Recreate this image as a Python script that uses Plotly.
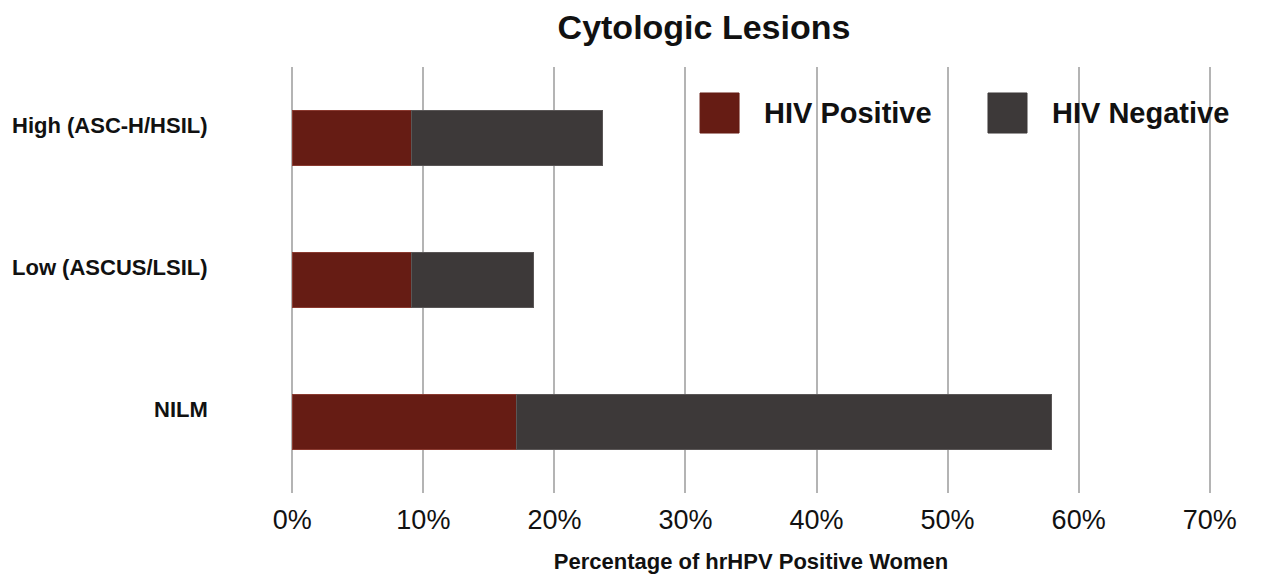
import plotly.graph_objects as go

# ── Data ──────────────────────────────────────────────────────────────────────
categories = ["High (ASC-H/HSIL)", "Low (ASCUS/LSIL)", "NILM"]
hiv_positive = [9.1, 9.1, 17.1]
hiv_negative = [14.6, 9.3, 40.8]
x_ticks = [0, 10, 20, 30, 40, 50, 60, 70]
x_tick_labels = [f"{v}%" for v in x_ticks]

RED = "#661c14"
GREY = "#3d3939"
GRID = "#b4b4b4"
FONT = "Liberation Sans, Arial, sans-serif"

# the page body keeps an 8px browser margin, so the figure is sized to fit
W, H = 1256, 566

fig = go.Figure()
fig.add_trace(go.Bar(
    y=categories, x=hiv_positive, orientation="h", name="HIV Positive",
    marker=dict(color=RED, line=dict(color="#8a3a30", width=1)),
    width=0.39, showlegend=False,
))
fig.add_trace(go.Bar(
    y=categories, x=hiv_negative, orientation="h", name="HIV Negative",
    marker=dict(color=GREY, line=dict(color="#5a5656", width=1)),
    width=0.39, showlegend=False,
))

# category labels, sitting a little above bar centres as in the reference
for cat in categories:
    fig.add_annotation(
        x=-0.088, xref="paper", y=cat, yref="y", yshift=13,
        text=f"<b>{cat}</b>", showarrow=False, xanchor="right", yanchor="middle",
        font=dict(family=FONT, size=22, color="#111111"),
    )

# hand-drawn legend (large swatches)
legend_items = [("HIV Positive", RED, 0.4446, 0.512), ("HIV Negative", GREY, 0.7576, 0.825)]
for label, color, sx, tx in legend_items:
    fig.add_shape(type="rect", xref="paper", yref="paper",
                  x0=sx, x1=sx + 0.0424, y0=0.845, y1=0.939,
                  fillcolor=color, line=dict(color=color, width=1))
    fig.add_annotation(x=tx, y=0.892, xref="paper", yref="paper",
                       text=f"<b>{label}</b>", showarrow=False,
                       xanchor="left", yanchor="middle",
                       font=dict(family=FONT, size=29, color="#111111"))

fig.update_layout(
    barmode="stack",
    width=W, height=H,
    paper_bgcolor="white", plot_bgcolor="white",
    margin=dict(l=283, r=53, t=59, b=81, autoexpand=False),
    font=dict(family=FONT, color="#111111"),
    title=dict(text="<b>Cytologic Lesions</b>", x=696 / W, xanchor="center",
               y=1 - 19 / H, yref="container", yanchor="middle",
               font=dict(family=FONT, size=34, color="#111111")),
    xaxis=dict(range=[-0.1, 70.1], tickvals=x_ticks, ticktext=x_tick_labels,
               showgrid=True, gridcolor=GRID, gridwidth=2, zeroline=False,
               showline=False, ticks="", ticklabelstandoff=8, automargin=False,
               tickfont=dict(family=FONT, size=27, color="#111111"),
               title=dict(text="<b>Percentage of hrHPV Positive Women</b>",
                          standoff=20, font=dict(family=FONT, size=22, color="#111111"))),
    yaxis=dict(range=[2.5, -0.5], showticklabels=False, showgrid=False,
               zeroline=False, showline=False, ticks="", automargin=False),
)

fig.write_html("out.html")
